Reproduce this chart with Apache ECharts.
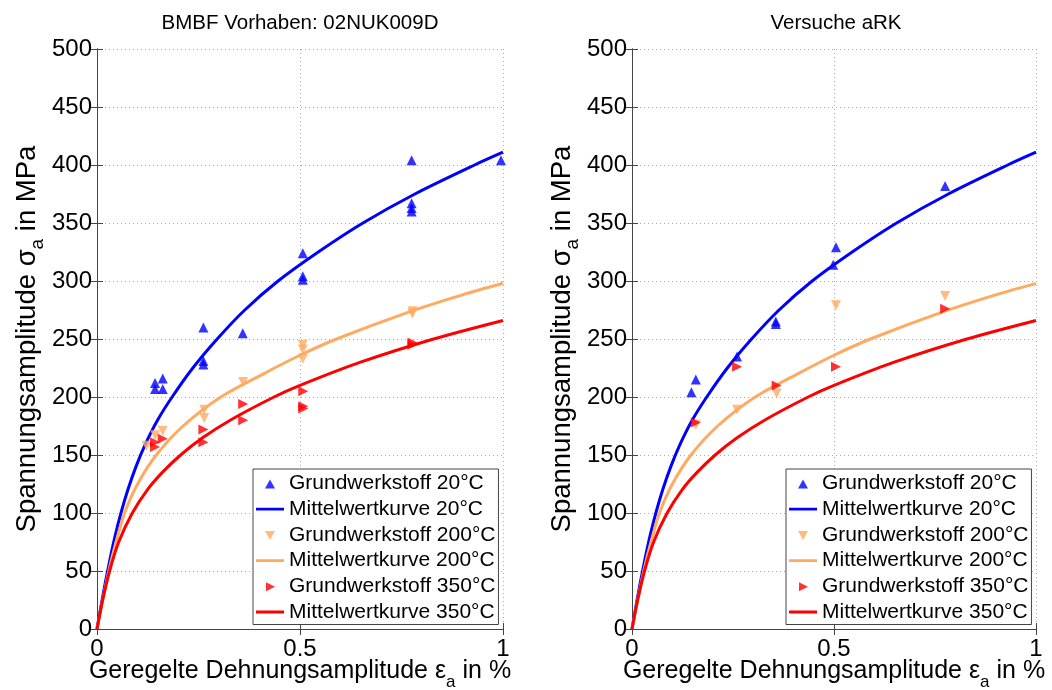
<!DOCTYPE html>
<html>
<head>
<meta charset="utf-8">
<title>Spannungsamplitude</title>
<script src="https://cdn.jsdelivr.net/npm/echarts@6/dist/echarts.min.js"></script>
<style>
  html, body { margin: 0; padding: 0; background: #fff; }
  #chart { width: 1052px; height: 690px; }
</style>
</head>
<body>
<div id="chart"></div>
<script>
// Titel der beiden Diagramme
const panelTitles = ['BMBF Vorhaben: 02NUK009D', 'Versuche aRK'];

// Legendeneinträge
const legendNames = [
  'Grundwerkstoff 20°C',
  'Mittelwertkurve 20°C',
  'Grundwerkstoff 200°C',
  'Mittelwertkurve 200°C',
  'Grundwerkstoff 350°C',
  'Mittelwertkurve 350°C'
];

// Achsenbeschriftung
const xTickLabels = ['0', '0.5', '1'];
const yTickLabels = ['0', '50', '100', '150', '200', '250', '300', '350', '400', '450', '500'];

// Mittelwertkurven [ε_a in %, σ_a in MPa]
const curve20 = [
  [0, 0], [0.01, 20], [0.0205, 40], [0.032, 60], [0.0445, 80], [0.059, 100],
  [0.076, 120], [0.096, 140], [0.12, 160], [0.149, 180], [0.185, 200],
  [0.236, 225], [0.296, 250], [0.364, 275], [0.446, 300], [0.545, 325],
  [0.655, 350], [0.783, 375], [0.93, 400], [1.0, 411]
];
const curve200 = [
  [0, 0], [0.014, 25], [0.029, 50], [0.047, 75], [0.068, 100], [0.1, 125],
  [0.146, 150], [0.212, 175], [0.305, 200], [0.41, 220], [0.5, 236],
  [0.59, 250], [0.766, 273], [0.9, 288], [1.0, 298]
];
const curve350 = [
  [0, 0], [0.014, 25], [0.031, 50], [0.0535, 75], [0.087, 100], [0.124, 120],
  [0.161, 135], [0.206, 150], [0.261, 165], [0.328, 180], [0.436, 200],
  [0.5, 210], [0.649, 230], [0.829, 250], [1.0, 266]
];

// Versuchspunkte BMBF Vorhaben
const bmbf20 = [
  [0.143, 212], [0.162, 216], [0.143, 207], [0.162, 207], [0.262, 260],
  [0.262, 231], [0.262, 228], [0.359, 255], [0.507, 324], [0.507, 304],
  [0.507, 301], [0.775, 404], [0.775, 367], [0.775, 363], [0.775, 360], [0.995, 404]
];
const bmbf200 = [
  [0.122, 158], [0.143, 167], [0.162, 171], [0.264, 189], [0.264, 182],
  [0.36, 213], [0.507, 245], [0.507, 241], [0.507, 233], [0.777, 274], [0.777, 272]
];
const bmbf350 = [
  [0.143, 161], [0.143, 157], [0.162, 164], [0.262, 172], [0.262, 161],
  [0.36, 194], [0.36, 180], [0.508, 205], [0.508, 192], [0.508, 190],
  [0.777, 247], [0.777, 245]
];

// Versuchspunkte aRK
const ark20 = [
  [0.147, 204], [0.158, 215], [0.26, 235], [0.356, 265], [0.356, 263],
  [0.498, 314], [0.505, 329], [0.775, 382]
];
const ark200 = [[0.158, 176], [0.26, 189], [0.358, 203], [0.505, 279], [0.775, 287]];
const ark350 = [[0.158, 178], [0.26, 226], [0.358, 210], [0.505, 226], [0.775, 276]];

const FONT = '"Liberation Sans", Arial, Helvetica, sans-serif';
const BLUE = '#0000ff';
const ORANGE = '#ffaa60';
const RED = '#ff0000';
const FRAME = '#444';

// Legendensymbole (Box 28x10, Dreieck mittig bzw. Linie)
const ICON_FRAME = 'M0,0L0.01,0M28,10L27.99,10';
const iconUp = 'path://' + ICON_FRAME + 'M9,10L14,1L19,10Z';
const iconDown = 'path://' + ICON_FRAME + 'M9,1L19,1L14,10Z';
const iconRight = 'path://' + ICON_FRAME + 'M10,1L19,5.5L10,10Z';
const iconLine = 'path://' + ICON_FRAME + 'M0,3.6L28,3.6L28,6.4L0,6.4Z';
const legendIcons = [iconUp, iconLine, iconDown, iconLine, iconRight, iconLine];

const chart = echarts.init(document.getElementById('chart'));

const grids = [
  { left: 97, top: 49, width: 406, height: 580, outerBoundsMode: 'none', containLabel: false },
  { left: 632, top: 49, width: 404, height: 580, outerBoundsMode: 'none', containLabel: false }
];

// Achsen: unten/links mit Beschriftung, oben/rechts nur Ticks (Rahmen)
const xAxes = [];
const yAxes = [];
grids.forEach((g, i) => {
  xAxes.push({
    type: 'value', gridIndex: i, min: 0, max: 1, interval: 0.5, position: 'bottom',
    name: '{t|Geregelte Dehnungsamplitude ε}{s|a}{t| in %}',
    nameLocation: 'middle', nameGap: 22, nameMoveOverlap: false,
    nameTextStyle: {
      color: '#000', fontFamily: FONT, fontSize: 25,
      rich: {
        t: { fontFamily: FONT, fontSize: 25, color: '#000', lineHeight: 40, verticalAlign: 'middle' },
        s: { fontFamily: FONT, fontSize: 17, color: '#000', lineHeight: 40, verticalAlign: 'bottom' }
      }
    },
    axisLine: { show: true, lineStyle: { color: FRAME, width: 1 } },
    axisTick: { show: true, inside: true, length: 6, lineStyle: { color: FRAME } },
    axisLabel: {
      color: '#000', fontFamily: FONT, fontSize: 24, margin: 8,
      formatter: v => xTickLabels[Math.round(v / 0.5)]
    },
    splitLine: { show: true, lineStyle: { color: '#aaa', type: [1, 3], width: 1 } }
  });
  xAxes.push({
    type: 'value', gridIndex: i, min: 0, max: 1, interval: 0.5, position: 'top',
    axisLine: { show: true, lineStyle: { color: FRAME, width: 1 } },
    axisTick: { show: true, inside: true, length: 6, lineStyle: { color: FRAME } },
    axisLabel: { show: false },
    splitLine: { show: false }
  });
  yAxes.push({
    type: 'value', gridIndex: i, min: 0, max: 500, interval: 50, position: 'left',
    name: '{t|Spannungsamplitude σ}{s|a}{t| in MPa}',
    nameLocation: 'middle', nameGap: 50,
    nameTextStyle: {
      color: '#000', fontFamily: FONT, fontSize: 27.5,
      rich: {
        t: { fontFamily: FONT, fontSize: 27.5, color: '#000', lineHeight: 40, verticalAlign: 'middle' },
        s: { fontFamily: FONT, fontSize: 19, color: '#000', lineHeight: 40, verticalAlign: 'bottom' }
      }
    },
    axisLine: { show: true, lineStyle: { color: FRAME, width: 1 } },
    axisTick: { show: true, inside: true, length: 6, lineStyle: { color: FRAME } },
    axisLabel: {
      color: '#000', fontFamily: FONT, fontSize: 24, margin: 5,
      formatter: v => yTickLabels[Math.round(v / 50)]
    },
    splitLine: { show: true, lineStyle: { color: '#aaa', type: [1, 3], width: 1 } }
  });
  yAxes.push({
    type: 'value', gridIndex: i, min: 0, max: 500, interval: 50, position: 'right',
    axisLine: { show: true, lineStyle: { color: FRAME, width: 1 } },
    axisTick: { show: true, inside: true, length: 6, lineStyle: { color: FRAME } },
    axisLabel: { show: false },
    splitLine: { show: false }
  });
});

// Serien je Diagramm
const makeSeries = (panel, pts20, pts200, pts350) => {
  const xi = panel * 2;
  const yi = panel * 2;
  const scatter = (name, data, color, rotate) => ({
    name, type: 'scatter', xAxisIndex: xi, yAxisIndex: yi, data,
    symbol: 'triangle', symbolSize: 10, symbolRotate: rotate,
    itemStyle: { color }, z: 3
  });
  const line = (name, data, color) => ({
    name, type: 'line', xAxisIndex: xi, yAxisIndex: yi, data,
    symbol: 'none', showSymbol: false, smooth: 0.3,
    lineStyle: { color, width: 3 }, itemStyle: { color }, z: 2
  });
  return [
    scatter(legendNames[0], pts20, BLUE, 0),
    line(legendNames[1], curve20, BLUE),
    scatter(legendNames[2], pts200, ORANGE, 180),
    line(legendNames[3], curve200, ORANGE),
    scatter(legendNames[4], pts350, RED, -90),
    line(legendNames[5], curve350, RED)
  ];
};

const legendBase = {
  orient: 'vertical', top: 469,
  data: legendNames.map((name, k) => ({ name, icon: legendIcons[k] })),
  itemWidth: 28, itemHeight: 10, itemGap: 4.7,
  padding: [4, 3, 2, 3],
  symbolRotate: 0,
  backgroundColor: '#fff', borderColor: FRAME, borderWidth: 1,
  selectedMode: false,
  textStyle: { color: '#000', fontFamily: FONT, fontSize: 21, lineHeight: 21 }
};

const option = {
  backgroundColor: '#fff',
  animation: false,
  grid: grids,
  xAxis: xAxes,
  yAxis: yAxes,
  legend: [
    Object.assign({}, legendBase, { left: 253 }),
    Object.assign({}, legendBase, { left: 786 })
  ],
  graphic: [
    {
      type: 'text', x: 300, y: 23,
      style: { text: panelTitles[0], fontFamily: FONT, fontSize: 20.5, fill: '#000', align: 'center', verticalAlign: 'middle' }
    },
    {
      type: 'text', x: 836, y: 23,
      style: { text: panelTitles[1], fontFamily: FONT, fontSize: 20.5, fill: '#000', align: 'center', verticalAlign: 'middle' }
    }
  ],
  series: [
    ...makeSeries(0, bmbf20, bmbf200, bmbf350),
    ...makeSeries(1, ark20, ark200, ark350)
  ]
};

chart.setOption(option);
window.addEventListener('resize', () => chart.resize());
</script>
</body>
</html>
